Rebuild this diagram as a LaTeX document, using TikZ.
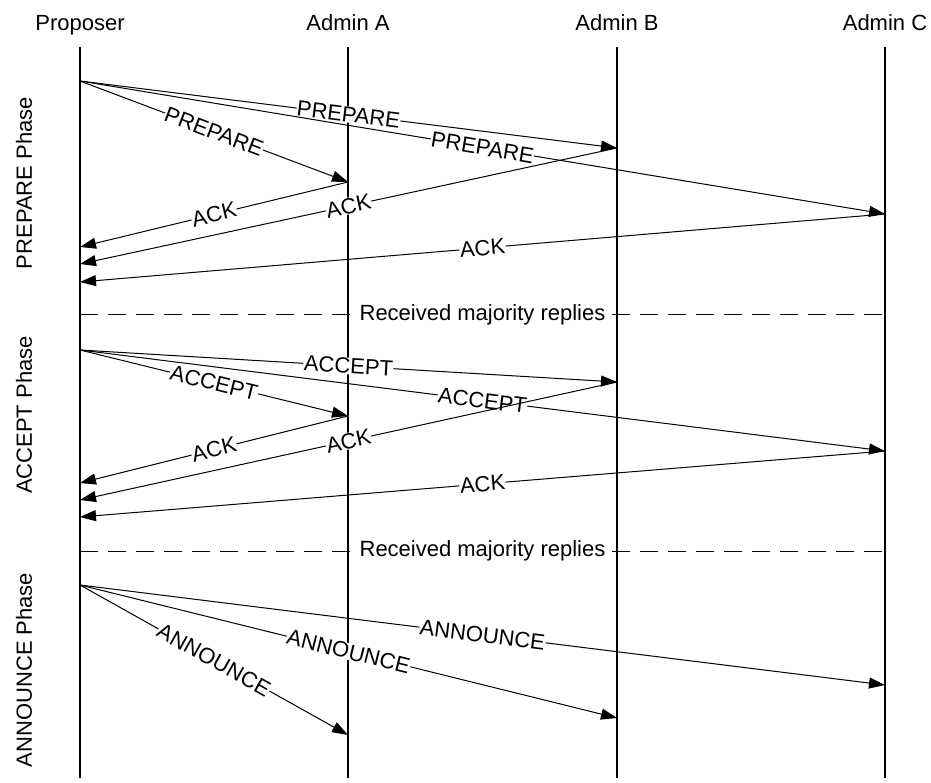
\documentclass[tikz,border=0pt]{standalone}
\usepackage{fontspec}
\setmainfont{Liberation Sans}
\usetikzlibrary{arrows.meta}
\begin{document}
\begin{tikzpicture}[x=1pt,y=-1pt,
  every node/.style={font=\fontsize{22}{26}\selectfont},
  lifeline/.style={line width=1.6pt},
  msg/.style={line width=1pt,-{Triangle[length=16pt,width=11pt]}},
  lbl/.style={fill=white,inner sep=0.5pt,sloped},
  dashline/.style={line width=1pt,dash pattern=on 18pt off 10pt},
  seplbl/.style={fill=white,inner sep=1pt},
  head/.style={anchor=base},
  phase/.style={rotate=90}]
\useasboundingbox (0,0) rectangle (931,783);
% headers
\node[head] (hP) at (80,31) {Proposer};
\node[head] (hA) at (348,31) {Admin A};
\node[head] (hB) at (617,31) {Admin B};
\node[head] (hC) at (885,31) {Admin C};
% lifelines
\coordinate (Pt) at (80,47);  \coordinate (Pb) at (80,778);
\coordinate (At) at (348,47); \coordinate (Ab) at (348,778);
\coordinate (Bt) at (617,47); \coordinate (Bb) at (617,778);
\coordinate (Ct) at (885,47); \coordinate (Cb) at (885,778);
\draw[lifeline] (Pt) -- (Pb);
\draw[lifeline] (At) -- (Ab);
\draw[lifeline] (Bt) -- (Bb);
\draw[lifeline] (Ct) -- (Cb);
% phase labels
\node[phase] (ph1) at (24,183) {PREPARE Phase};
\node[phase] (ph2) at (24,415) {ACCEPT Phase};
\node[phase] (ph3) at (24,670) {ANNOUNCE Phase};
% PREPARE phase
\coordinate (p1) at (80,81);
\coordinate (a1) at (348,182);
\coordinate (b1) at (617,148);
\coordinate (c1) at (885,214);
\coordinate (pa1) at (80,247);
\coordinate (pb1) at (80,264);
\coordinate (pc1) at (80,282);
\draw[msg] (p1) -- node[lbl] {PREPARE} (a1);
\draw[msg] (p1) -- node[lbl] {PREPARE} (b1);
\draw[msg] (p1) -- node[lbl] {PREPARE} (c1);
\draw[msg] (a1) -- node[lbl] {ACK} (pa1);
\draw[msg] (b1) -- node[lbl] {ACK} (pb1);
\draw[msg] (c1) -- node[lbl] {ACK} (pc1);
% first separator
\coordinate (d1l) at (80,315);
\coordinate (d1r) at (885,315);
\draw[dashline] (d1l) -- node[seplbl] {Received majority replies} (d1r);
% ACCEPT phase
\coordinate (p2) at (80,350);
\coordinate (a2) at (348,416);
\coordinate (b2) at (617,382);
\coordinate (c2) at (885,451);
\coordinate (pa2) at (80,483);
\coordinate (pb2) at (80,500);
\coordinate (pc2) at (80,517);
\draw[msg] (p2) -- node[lbl] {ACCEPT} (a2);
\draw[msg] (p2) -- node[lbl] {ACCEPT} (b2);
\draw[msg] (p2) -- node[lbl] {ACCEPT} (c2);
\draw[msg] (a2) -- node[lbl] {ACK} (pa2);
\draw[msg] (b2) -- node[lbl] {ACK} (pb2);
\draw[msg] (c2) -- node[lbl] {ACK} (pc2);
% second separator
\coordinate (d2l) at (80,551);
\coordinate (d2r) at (885,551);
\draw[dashline] (d2l) -- node[seplbl] {Received majority replies} (d2r);
% ANNOUNCE phase
\coordinate (p3) at (80,585);
\coordinate (a3) at (348,735);
\coordinate (b3) at (617,718);
\coordinate (c3) at (885,685);
\draw[msg] (p3) -- node[lbl] {ANNOUNCE} (a3);
\draw[msg] (p3) -- node[lbl] {ANNOUNCE} (b3);
\draw[msg] (p3) -- node[lbl] {ANNOUNCE} (c3);
\end{tikzpicture}
\end{document}
